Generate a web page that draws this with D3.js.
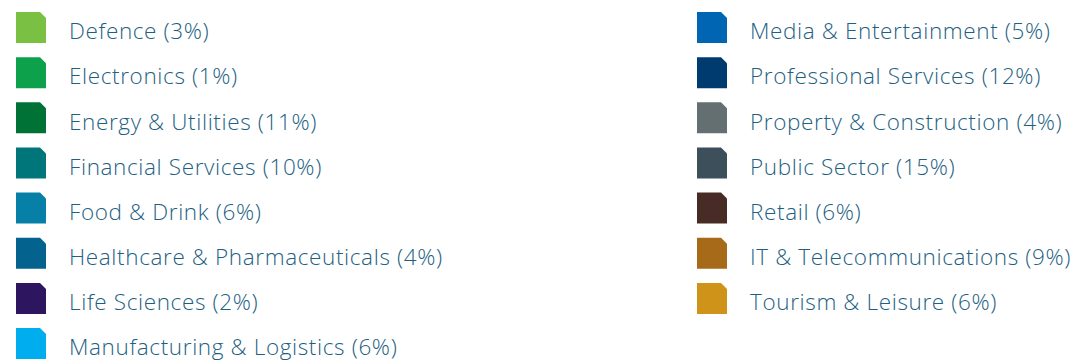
<!DOCTYPE html>
<html>
<head>
<meta charset="utf-8">
<script src="https://cdn.jsdelivr.net/npm/d3@7"></script>
<style>
  html, body { margin: 0; padding: 0; background: #ffffff; }
  svg { display: block; }
  .label { font-family: "Open Sans", Lato, sans-serif; font-weight: 300; fill: #1e5f82; letter-spacing: 0.63px; }
</style>
</head>
<body>
<svg id="chart" width="1081" height="361"></svg>
<script>
// Sector breakdown shown as a two-column legend
const sectors = [
  "Defence", "Electronics", "Energy & Utilities", "Financial Services",
  "Food & Drink", "Healthcare & Pharmaceuticals", "Life Sciences",
  "Manufacturing & Logistics", "Media & Entertainment", "Professional Services",
  "Property & Construction", "Public Sector", "Retail",
  "IT & Telecommunications", "Tourism & Leisure"
];
const shares = [3, 1, 11, 10, 6, 4, 2, 6, 5, 12, 4, 15, 6, 9, 6];
const sectorColors = [
  "#7ac143", "#0ca14a", "#007236", "#00767a", "#0780a8", "#04628f", "#2e1560",
  "#00aeef", "#0065b3", "#003b6f", "#636f70", "#3d4f5a", "#472b24", "#a66a19", "#d0931a"
];
const leftCount = 8;

const svg = d3.select("#chart");

const rows = d3.range(leftCount);
const y = d3.scaleBand().domain(rows).range([12, 12 + 45.15 * leftCount]).paddingInner(0);
const col = d3.scaleOrdinal().domain([0, 1]).range([16, 697]);
const color = d3.scaleOrdinal().domain(sectors).range(sectorColors);

const items = sectors.map((name, i) => ({
  name, share: shares[i],
  column: i < leftCount ? 0 : 1,
  row: i < leftCount ? i : i - leftCount
}));

const sw = 30, sh = 31, cut = 6;
const swatchPath = `M0,0H${sw - cut}L${sw},${cut}V${sh}H0Z`;

const g = svg.selectAll("g.item").data(items).join("g")
  .attr("class", "item")
  .attr("transform", d => `translate(${col(d.column)},${y(d.row)})`);

g.append("path")
  .attr("d", swatchPath)
  .attr("fill", d => color(d.name));

g.append("text")
  .attr("class", "label")
  .attr("x", 53)
  .attr("y", 27.3)
  .attr("font-size", 22.5)
  .text(d => `${d.name} (${d.share}%)`);
</script>
</body>
</html>
